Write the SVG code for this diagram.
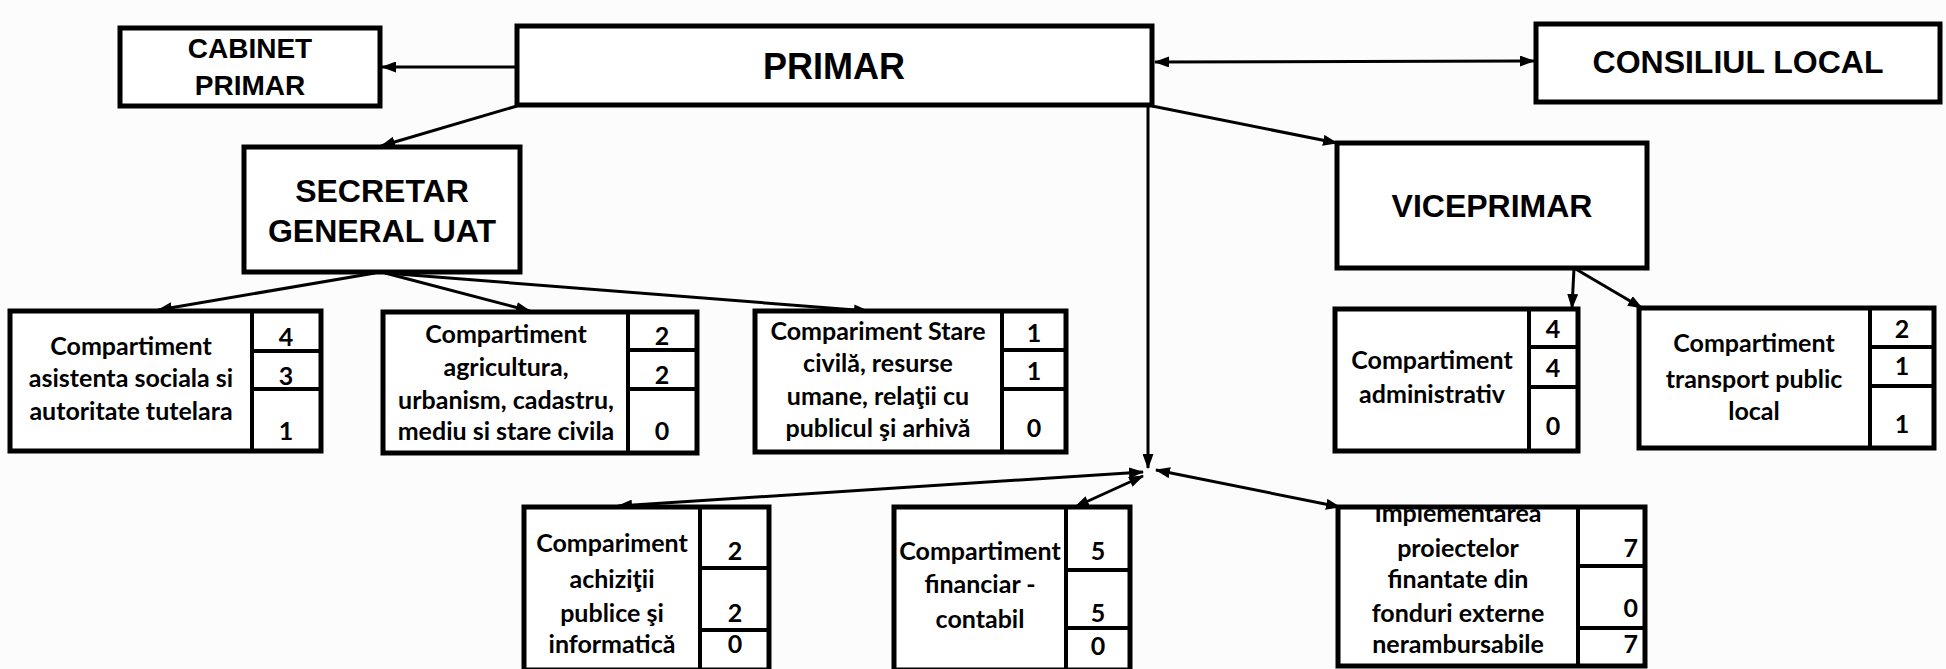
<svg xmlns="http://www.w3.org/2000/svg" width="1946" height="669" viewBox="0 0 1946 669">
<defs>
<marker id="ah" markerUnits="userSpaceOnUse" markerWidth="15" markerHeight="11" refX="14" refY="5.5" orient="auto-start-reverse" viewBox="0 0 15 11">
<path d="M0,0 L15,5.5 L0,11 z" fill="#000"/>
</marker>
<clipPath id="clipImpl"><rect x="1340" y="509" width="236" height="158"/></clipPath>
</defs>
<style>
.box{fill:#fff;stroke:#000;stroke-width:5}
.div{stroke:#000;stroke-width:4;fill:none}
.con{stroke:#000;stroke-width:3;fill:none}
.ar{marker-end:url(#ah)}
.ar2{marker-start:url(#ah);marker-end:url(#ah)}
.t{font-family:"Liberation Sans",Arial,sans-serif;font-weight:bold;text-anchor:middle;fill:#000}
.c{font-family:Lato,"Open Sans",sans-serif;font-weight:bold;font-size:25px;text-anchor:middle;fill:#000}
.n{font-family:Lato,"Open Sans",sans-serif;font-weight:bold;font-size:25px;text-anchor:middle;fill:#000}
.r{text-anchor:end}
</style>
<rect x="0" y="0" width="1946" height="669" fill="#fcfcfd"/>

<g id="connectors">
<line class="con ar" x1="517" y1="67" x2="382" y2="67"/>
<line class="con ar2" x1="1155" y1="62" x2="1534" y2="61"/>
<line class="con ar" x1="517" y1="106" x2="381" y2="146"/>
<line class="con ar" x1="1152" y1="106" x2="1337" y2="143"/>
<line class="con ar" x1="1148" y1="106" x2="1148" y2="468"/>
<line class="con ar" x1="375" y1="273" x2="158" y2="310"/>
<line class="con ar" x1="385" y1="273" x2="530" y2="311"/>
<line class="con ar" x1="385" y1="273" x2="868" y2="311"/>
<line class="con ar" x1="1574" y1="268" x2="1572" y2="308"/>
<line class="con ar" x1="1574" y1="268" x2="1642" y2="308"/>
<line class="con ar2" x1="1143" y1="472" x2="618" y2="506"/>
<line class="con ar2" x1="1143" y1="476" x2="1075" y2="507"/>
<line class="con ar2" x1="1156" y1="470" x2="1340" y2="507"/>
</g>

<g id="cabinet">
<rect class="box" x="120" y="28" width="260" height="78"/>
<text class="t" x="250" y="58" font-size="28">CABINET</text>
<text class="t" x="250" y="95" font-size="28">PRIMAR</text>
</g>

<g id="primar">
<rect class="box" x="517" y="26" width="635" height="79"/>
<text class="t" x="834" y="79" font-size="36">PRIMAR</text>
</g>

<g id="consiliul">
<rect class="box" x="1536" y="24" width="404" height="78"/>
<text class="t" x="1738" y="73" font-size="32">CONSILIUL LOCAL</text>
</g>

<g id="secretar">
<rect class="box" x="244" y="147" width="276" height="125"/>
<text class="t" x="382" y="202" font-size="32">SECRETAR</text>
<text class="t" x="382" y="242" font-size="32">GENERAL UAT</text>
</g>

<g id="viceprimar">
<rect class="box" x="1337" y="143" width="310" height="125"/>
<text class="t" x="1492" y="217" font-size="32">VICEPRIMAR</text>
</g>

<g id="asistenta">
<rect class="box" x="10" y="311" width="311" height="140"/>
<line class="div" x1="252" y1="311" x2="252" y2="451"/>
<line class="div" x1="252" y1="351" x2="321" y2="351"/>
<line class="div" x1="252" y1="389" x2="321" y2="389"/>
<text class="c" x="131" y="355">Compartiment</text>
<text class="c" x="131" y="387">asistenta sociala si</text>
<text class="c" x="131" y="420">autoritate tutelara</text>
<text class="n" x="286" y="346">4</text>
<text class="n" x="286" y="385">3</text>
<text class="n" x="286" y="440">1</text>
</g>

<g id="agricultura">
<rect class="box" x="383" y="312" width="314" height="141"/>
<line class="div" x1="628" y1="312" x2="628" y2="453"/>
<line class="div" x1="628" y1="350" x2="697" y2="350"/>
<line class="div" x1="628" y1="389" x2="697" y2="389"/>
<text class="c" x="506" y="343">Compartiment</text>
<text class="c" x="506" y="376">agricultura,</text>
<text class="c" x="506" y="409">urbanism, cadastru,</text>
<text class="c" x="506" y="440">mediu si stare civila</text>
<text class="n" x="662" y="345">2</text>
<text class="n" x="662" y="384">2</text>
<text class="n" x="662" y="440">0</text>
</g>

<g id="stare-civila">
<rect class="box" x="755" y="311" width="311" height="141"/>
<line class="div" x1="1002" y1="311" x2="1002" y2="452"/>
<line class="div" x1="1002" y1="350" x2="1066" y2="350"/>
<line class="div" x1="1002" y1="389" x2="1066" y2="389"/>
<text class="c" x="878" y="340">Compariment Stare</text>
<text class="c" x="878" y="372">civilă, resurse</text>
<text class="c" x="878" y="405">umane, relaţii cu</text>
<text class="c" x="878" y="437">publicul şi arhivă</text>
<text class="n" x="1034" y="342">1</text>
<text class="n" x="1034" y="380">1</text>
<text class="n" x="1034" y="437">0</text>
</g>

<g id="administrativ">
<rect class="box" x="1335" y="309" width="243" height="142"/>
<line class="div" x1="1529" y1="309" x2="1529" y2="451"/>
<line class="div" x1="1529" y1="347" x2="1578" y2="347"/>
<line class="div" x1="1529" y1="387" x2="1578" y2="387"/>
<text class="c" x="1432" y="369">Compartiment</text>
<text class="c" x="1432" y="403">administrativ</text>
<text class="n" x="1553" y="338">4</text>
<text class="n" x="1553" y="377">4</text>
<text class="n" x="1553" y="435">0</text>
</g>

<g id="transport">
<rect class="box" x="1639" y="308" width="295" height="140"/>
<line class="div" x1="1870" y1="308" x2="1870" y2="448"/>
<line class="div" x1="1870" y1="347" x2="1934" y2="347"/>
<line class="div" x1="1870" y1="386" x2="1934" y2="386"/>
<text class="c" x="1754" y="352">Compartiment</text>
<text class="c" x="1754" y="388">transport public</text>
<text class="c" x="1754" y="420">local</text>
<text class="n" x="1902" y="338">2</text>
<text class="n" x="1902" y="375">1</text>
<text class="n" x="1902" y="433">1</text>
</g>

<g id="achizitii">
<rect class="box" x="524" y="507" width="245" height="163"/>
<line class="div" x1="700" y1="507" x2="700" y2="670"/>
<line class="div" x1="700" y1="568" x2="769" y2="568"/>
<line class="div" x1="700" y1="630" x2="769" y2="630"/>
<text class="c" x="612" y="552">Compariment</text>
<text class="c" x="612" y="588">achiziţii</text>
<text class="c" x="612" y="622">publice şi</text>
<text class="c" x="612" y="653">informatică</text>
<text class="n" x="735" y="560">2</text>
<text class="n" x="735" y="622">2</text>
<text class="n" x="735" y="653">0</text>
</g>

<g id="financiar">
<rect class="box" x="894" y="507" width="236" height="163"/>
<line class="div" x1="1066" y1="507" x2="1066" y2="670"/>
<line class="div" x1="1066" y1="570" x2="1130" y2="570"/>
<line class="div" x1="1066" y1="628" x2="1130" y2="628"/>
<text class="c" x="980" y="560">Compartiment</text>
<text class="c" x="980" y="593">financiar -</text>
<text class="c" x="980" y="628">contabil</text>
<text class="n" x="1098" y="560">5</text>
<text class="n" x="1098" y="622">5</text>
<text class="n" x="1098" y="655">0</text>
</g>

<g id="implementarea">
<rect class="box" x="1338" y="507" width="307" height="159"/>
<line class="div" x1="1578" y1="507" x2="1578" y2="666"/>
<line class="div" x1="1578" y1="566" x2="1645" y2="566"/>
<line class="div" x1="1578" y1="628" x2="1645" y2="628"/>
<g clip-path="url(#clipImpl)">
<text class="c" x="1458" y="522">Implementarea</text>
</g>
<text class="c" x="1458" y="557">proiectelor</text>
<text class="c" x="1458" y="588">finantate din</text>
<text class="c" x="1458" y="622">fonduri externe</text>
<text class="c" x="1458" y="653">nerambursabile</text>
<text class="n r" x="1638" y="557">7</text>
<text class="n r" x="1638" y="617">0</text>
<text class="n r" x="1638" y="653">7</text>
</g>
</svg>
